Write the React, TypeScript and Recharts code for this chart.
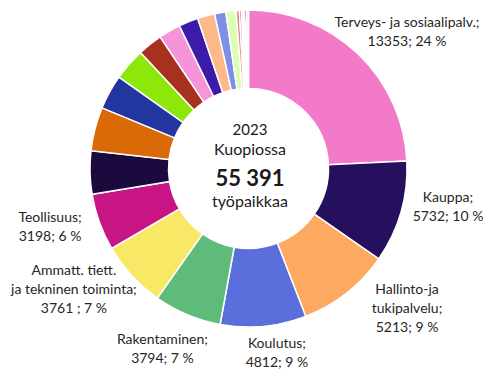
import React from 'react';
import { PieChart, Pie, Cell } from 'recharts';

const categories = [
  'Terveys- ja sosiaalipalv.',
  'Kauppa',
  'Hallinto-ja tukipalvelu',
  'Koulutus',
  'Rakentaminen',
  'Ammatt. tiett. ja tekninen toiminta',
  'Teollisuus',
  'Muu 1', 'Muu 2', 'Muu 3', 'Muu 4', 'Muu 5', 'Muu 6', 'Muu 7', 'Muu 8',
  'Muu 9', 'Muu 10', 'Muu 11', 'Muu 12', 'Muu 13', 'Muu 14', 'Muu 15', 'Muu 16',
];

const values = [
  13353, 5732, 5213, 4812, 3794, 3761, 3198,
  2423, 2454, 1939, 1816, 1385, 1231, 1092, 969, 631, 569, 185,
  123, 92, 92, 100, 100,
];

const labelLines: string[][] = [
  ['Terveys- ja sosiaalipalv.;', '13353; 24 %'],
  ['Kauppa;', '5732; 10 %'],
  ['Hallinto-ja', 'tukipalvelu;', '5213; 9 %'],
  ['Koulutus;', '4812; 9 %'],
  ['Rakentaminen;', '3794; 7 %'],
  ['Ammatt. tiett.', 'ja tekninen toiminta;', '3761 ; 7 %'],
  ['Teollisuus;', '3198; 6 %'],
];

const centerLines = ['2023', 'Kuopiossa', '55 391', 'työpaikkaa'];

const colors = [
  '#F27AC9', '#25105E', '#FDA962', '#5A6FDC', '#5EBB79', '#F7E966', '#C71586',
  '#1B0A3E', '#D96A06', '#2336A0', '#8DE70B', '#A8301F', '#F594D8', '#3B1BA8',
  '#FDB98A', '#7F8FE6', '#D8FFB2', '#E3887B', '#EE5FB0', '#C9A0E0', '#3A2070',
  '#111133', '#F0C0D8',
];

const data = categories.map((name, i) => ({ name, value: values[i] }));

const LABEL_R = 200;
const nudges: [number, number][] = [
  [20.5, 7.3], [7.3, -18.2], [34.9, -18.4], [9.6, -15.9], [-8.8, -4.5], [-27.3, -14.9], [-10.3, -10.3],
];
const LINE_H = 19;
const RAD = Math.PI / 180;

const renderLabel = (props: any) => {
  const { cx, cy, midAngle, index } = props;
  const lines = labelLines[index];
  if (!lines) return null;
  const bx = cx + LABEL_R * Math.cos(-midAngle * RAD) + nudges[index][0];
  const by = cy + LABEL_R * Math.sin(-midAngle * RAD) + nudges[index][1];
  const n = lines.length;
  return (
    <text
      key={`lbl-${index}`}
      textAnchor="middle"
      fill="#262626"
      fontFamily="Lato, 'Open Sans', sans-serif"
      fontSize={14}
    >
      {lines.map((l, i) => (
        <tspan key={i} x={bx} y={by + (i - (n - 1) / 2) * LINE_H} dominantBaseline="central">
          {l}
        </tspan>
      ))}
    </text>
  );
};

export default function App() {
  return (
    <div style={{ position: 'absolute', left: 0, top: 0, width: 498, height: 381, background: '#fff' }}>
      <PieChart width={498} height={381} margin={{ top: 0, right: 0, bottom: 0, left: 0 }}>
        <Pie
          data={data}
          dataKey="value"
          nameKey="name"
          cx={248.5}
          cy={168.5}
          innerRadius={80}
          outerRadius={158.5}
          startAngle={90}
          endAngle={-270}
          stroke="#ffffff"
          strokeWidth={1.5}
          label={renderLabel}
          labelLine={false}
          isAnimationActive={false}
        >
          {data.map((d, i) => (
            <Cell key={d.name} fill={colors[i]} />
          ))}
        </Pie>
      </PieChart>
      <div
        style={{
          position: 'absolute',
          left: 150,
          width: 200,
          top: 0,
          height: 381,
          fontFamily: "Lato, 'Open Sans', sans-serif",
          color: '#1a1a1a',
          textAlign: 'center',
          pointerEvents: 'none',
        }}
      >
        <div style={{ position: 'absolute', top: 119, width: '100%', fontSize: 15, lineHeight: '20px' }}>{centerLines[0]}</div>
        <div style={{ position: 'absolute', top: 139, width: '100%', fontSize: 16, lineHeight: '20px' }}>{centerLines[1]}</div>
        <div style={{ position: 'absolute', top: 167, width: '100%', fontSize: 22, fontWeight: 700, lineHeight: '22px' }}>{centerLines[2]}</div>
        <div style={{ position: 'absolute', top: 192, width: '100%', fontSize: 16, lineHeight: '18px' }}>{centerLines[3]}</div>
      </div>
    </div>
  );
}
